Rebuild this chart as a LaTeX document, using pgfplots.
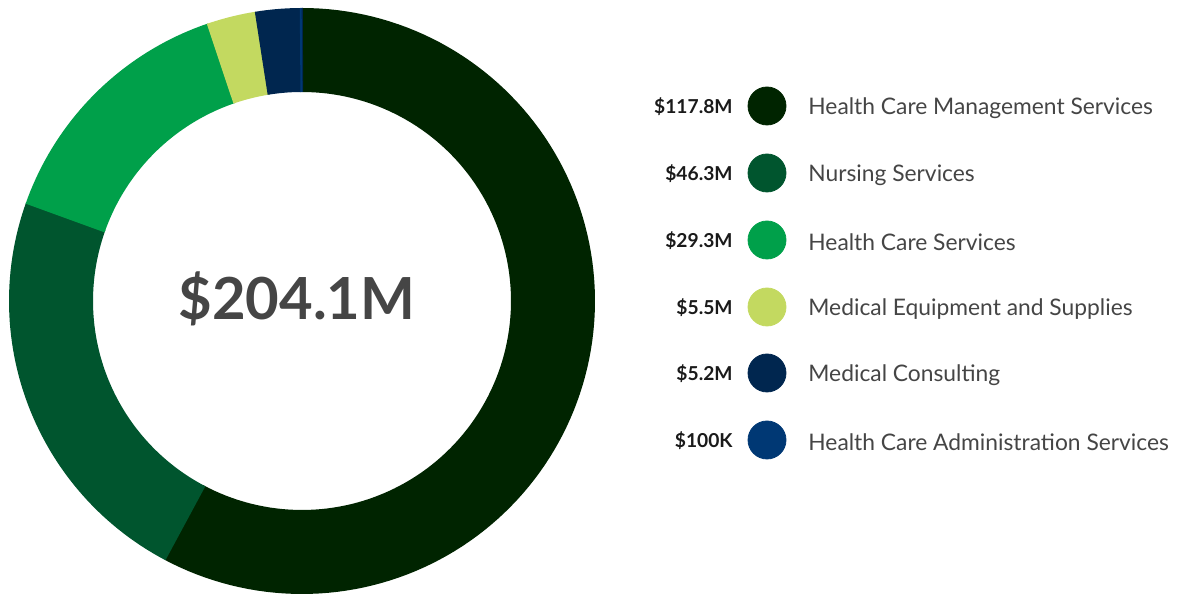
\documentclass[border=0pt]{standalone}
\usepackage{pgfplots}
\pgfplotsset{compat=1.18}
\usepackage{fontspec}
\setmainfont{Lato}

\definecolor{cMgmt}{HTML}{002400}
\definecolor{cNurs}{HTML}{00552E}
\definecolor{cServ}{HTML}{00A04A}
\definecolor{cEquip}{HTML}{C3D960}
\definecolor{cCons}{HTML}{00264F}
\definecolor{cAdmin}{HTML}{003874}
\definecolor{cLabel}{HTML}{454545}
\definecolor{cAmt}{HTML}{1A1A1A}

% values in $M
\def\vA{117.8}
\def\vB{46.3}
\def\vC{29.3}
\def\vD{5.5}
\def\vE{5.2}
\def\vF{0.1}

\begin{document}
\begin{tikzpicture}
\useasboundingbox (0,0) rectangle (589pt,298.5pt);
\pgfmathsetmacro\tot{\vA+\vB+\vC+\vD+\vE+\vF}
\pgfmathsetmacro\k{360/\tot}
\pgfmathsetmacro\aA{90}
\pgfmathsetmacro\aB{\aA-\k*\vA}
\pgfmathsetmacro\aC{\aB-\k*\vB}
\pgfmathsetmacro\aD{\aC-\k*\vC}
\pgfmathsetmacro\aE{\aD-\k*\vD}
\pgfmathsetmacro\aF{\aE-\k*\vE}
\pgfmathsetmacro\aG{\aF-\k*\vF}
\begin{axis}[
    at={(0,0)}, anchor=south west,
    width=589pt, height=298.5pt, scale only axis,
    xmin=0, xmax=1178, ymin=0, ymax=597,
    hide axis, clip=false,
    every axis plot/.append style={line cap=butt},
]
% donut ring: centre (302,296), mid radius 251, thickness 84 (1 unit = 0.5pt)
% each slice runs 0.4 deg into the next one, which is drawn over it (no seams)
\addplot[cMgmt, line width=42pt, domain=\aB-0.4:\aA, samples=120] ({302+251*cos(x)},{296+251*sin(x)});
\addplot[cNurs, line width=42pt, domain=\aC-0.4:\aB, samples=60] ({302+251*cos(x)},{296+251*sin(x)});
\addplot[cServ, line width=42pt, domain=\aD-0.4:\aC, samples=40] ({302+251*cos(x)},{296+251*sin(x)});
\addplot[cEquip, line width=42pt, domain=\aE-0.4:\aD, samples=10] ({302+251*cos(x)},{296+251*sin(x)});
\addplot[cCons, line width=42pt, domain=\aF-0.4:\aE, samples=10] ({302+251*cos(x)},{296+251*sin(x)});
\addplot[cAdmin, line width=42pt, domain=\aG:\aF+0.25, samples=2] ({302+251*cos(x)},{296+251*sin(x)});

\node[cLabel, font=\fontsize{29}{30}\selectfont\bfseries] at (axis cs:297,298) {\$204.1M};

% legend
\addplot[only marks, mark=*, mark size=9.5pt, cMgmt] coordinates {(767,491)};
\addplot[only marks, mark=*, mark size=9.5pt, cNurs] coordinates {(767,424)};
\addplot[only marks, mark=*, mark size=9.5pt, cServ] coordinates {(767,357)};
\addplot[only marks, mark=*, mark size=9.5pt, cEquip] coordinates {(767,290)};
\addplot[only marks, mark=*, mark size=9.5pt, cCons] coordinates {(767,224)};
\addplot[only marks, mark=*, mark size=9.5pt, cAdmin] coordinates {(767,157)};

\begin{scope}[every node/.style={font=\fontsize{9.6}{12}\selectfont\bfseries, text=cAmt, anchor=east, inner sep=0pt}]
\node at (axis cs:733,490) {\$117.8M};
\node at (axis cs:733,423) {\$46.3M};
\node at (axis cs:733,356) {\$29.3M};
\node at (axis cs:733,289) {\$5.5M};
\node at (axis cs:733,223) {\$5.2M};
\node at (axis cs:733,156) {\$100K};
\end{scope}
\begin{scope}[every node/.style={font=\fontsize{11.4}{13}\selectfont, text=cLabel, anchor=west, inner sep=0pt}]
\node at (axis cs:808,489) {Health Care Management Services};
\node at (axis cs:808,422) {Nursing Services};
\node at (axis cs:808,355) {Health Care Services};
\node at (axis cs:808,288) {Medical Equipment and Supplies};
\node at (axis cs:808,222) {Medical Consulting};
\node at (axis cs:808,155) {Health Care Administration Services};
\end{scope}
\end{axis}
\end{tikzpicture}
\end{document}
